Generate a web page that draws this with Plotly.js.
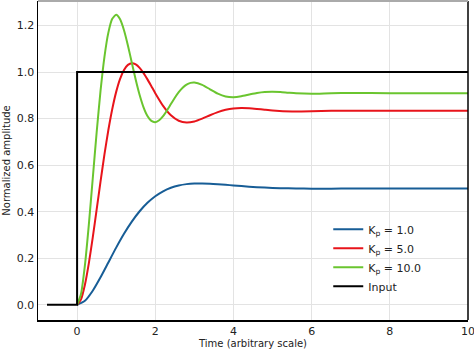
<!DOCTYPE html>
<html>
<head>
<meta charset="utf-8">
<script src="https://cdn.plot.ly/plotly-3.0.1.min.js"></script>
<style>html,body{margin:0;padding:0;background:#fff;}#chart{width:474px;height:351px;}</style>
</head>
<body>
<div id="chart"></div>
<script>
// Time samples and responses
const tBlue = [0,0.2,0.4,0.6,0.8,1.0,1.2,1.4,1.6,1.8,2.0,2.2,2.4,2.6,2.8,3.0,3.2,3.4,3.6,3.8,4.0,4.4,4.8,5.2,5.6,6.0,6.5,7,8,9,10];
const yBlue = [0,0.0175,0.0608,0.1186,0.1823,0.2458,0.3051,0.3575,0.4020,0.4383,0.4666,0.4878,0.5028,0.5127,0.5185,0.5211,0.5215,0.5204,0.5183,0.5157,0.5129,0.5077,0.5037,0.5012,0.4997,0.4992,0.4991,0.4994,0.4999,0.5,0.5];

const tRed = [0,0.1,0.2,0.3,0.4,0.5,0.6,0.7,0.8,0.9,1.0,1.1,1.2,1.3,1.4,1.5,1.6,1.7,1.8,1.9,2.0,2.2,2.4,2.6,2.8,3.0,3.2,3.4,3.6,3.8,4.0,4.2,4.4,4.6,4.8,5.0,5.5,6.0,6.5,7,8,9,10];
const yRed = [0,0.0233,0.0862,0.1781,0.2889,0.4090,0.5303,0.6460,0.7509,0.8412,0.9147,0.9705,1.0088,1.0306,1.0378,1.0326,1.0176,0.9954,0.9684,0.9390,0.9092,0.8548,0.8142,0.7907,0.7832,0.7879,0.7999,0.8144,0.8278,0.8378,0.8437,0.8456,0.8445,0.8416,0.8381,0.8348,0.8305,0.8313,0.8333,0.8341,0.8333,0.8333,0.8333];

const tGreen = [0,0.1,0.2,0.3,0.4,0.5,0.6,0.7,0.8,0.9,1.0,1.1,1.2,1.3,1.4,1.5,1.6,1.7,1.8,1.9,2.0,2.1,2.2,2.3,2.4,2.5,2.6,2.7,2.8,2.9,3.0,3.2,3.4,3.6,3.8,4.0,4.2,4.4,4.6,4.8,5.0,5.2,5.4,5.6,6.0,6.5,7,8,9,10];
const yGreen = [0,0.0464,0.1696,0.3436,0.5418,0.7404,0.9197,1.0655,1.1693,1.2286,1.2457,1.2263,1.1792,1.1139,1.0402,0.9669,0.9012,0.8482,0.8108,0.7899,0.7846,0.7928,0.8105,0.8350,0.8624,0.8894,0.9135,0.9327,0.9462,0.9535,0.9552,0.9451,0.9257,0.9069,0.8951,0.8921,0.8960,0.9032,0.9101,0.9144,0.9154,0.9139,0.9112,0.9087,0.9068,0.9089,0.9100,0.9091,0.9091,0.9091];

const tInput = [-0.77,0,0,10];
const yInput = [0,0,1,1];

const seriesNames = ['K<sub>p</sub> = 1.0','K<sub>p</sub> = 5.0','K<sub>p</sub> = 10.0','Input'];
const xTicks = [0,2,4,6,8,10];
const yTicks = [0,0.2,0.4,0.6,0.8,1.0,1.2];
const yTickText = ['0.0','0.2','0.4','0.6','0.8','1.0','1.2'];

const FONT = 'DejaVu Sans, sans-serif';

const traces = [
  {x:tBlue, y:yBlue, name:seriesNames[0], mode:'lines', line:{color:'#175d96', width:2, shape:'spline', smoothing:0.6}},
  {x:tRed, y:yRed, name:seriesNames[1], mode:'lines', line:{color:'#e8141b', width:2, shape:'spline', smoothing:0.6}},
  {x:tGreen, y:yGreen, name:seriesNames[2], mode:'lines', line:{color:'#6ac52f', width:2, shape:'spline', smoothing:0.6}},
  {x:tInput, y:yInput, name:seriesNames[3], mode:'lines', line:{color:'#000000', width:2}}
];

const layout = {
  width:474, height:351,
  margin:{l:38, r:6, t:1, b:31, pad:0},
  paper_bgcolor:'#ffffff', plot_bgcolor:'#ffffff',
  font:{family:FONT, size:11, color:'#222'},
  showlegend:true,
  legend:{x:0.675, xanchor:'left', y:0.33, yanchor:'top', bgcolor:'rgba(0,0,0,0)', borderwidth:0, font:{family:FONT, size:11, color:'#222'}, tracegroupgap:0},
  xaxis:{range:[-1,10], tickvals:xTicks, ticktext:xTicks.map(String), showgrid:true, gridcolor:'#e3e3e3', gridwidth:1, zeroline:false,
         showline:true, linecolor:'#000', linewidth:1.5, mirror:false, ticks:'', automargin:false, ticklabeloverflow:'allow',
         tickfont:{family:FONT, size:11, color:'#222'},
         title:{text:'Time (arbitrary scale)', font:{family:FONT, size:10, color:'#222'}, standoff:2}},
  yaxis:{range:[-0.065,1.305], tickvals:yTicks, ticktext:yTickText, showgrid:true, gridcolor:'#e3e3e3', gridwidth:1, zeroline:false,
         showline:true, linecolor:'#000', linewidth:1.5, mirror:false, ticks:'', automargin:false, ticklabeloverflow:'allow',
         tickfont:{family:FONT, size:11, color:'#222'},
         title:{text:'Normalized amplitude', font:{family:FONT, size:10, color:'#222'}, standoff:4}},
  shapes:[
    {type:'line', xref:'paper', yref:'paper', x0:1, x1:1, y0:0, y1:1, line:{color:'#000', width:1.5}},
    {type:'line', xref:'paper', yref:'paper', x0:0, x1:1, y0:1, y1:1, line:{color:'#aaaaaa', width:2}}
  ]
};

Plotly.newPlot('chart', traces, layout, {displayModeBar:false, staticPlot:true});
</script>
</body>
</html>
